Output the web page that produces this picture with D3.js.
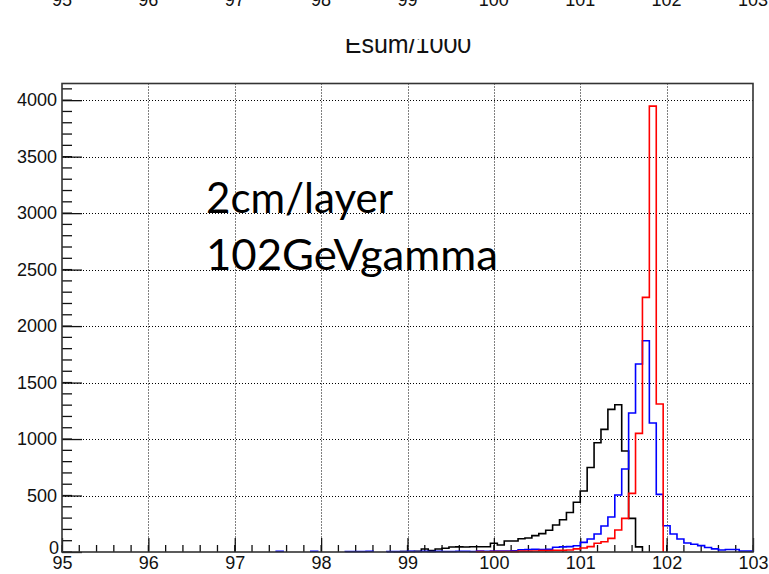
<!DOCTYPE html>
<html>
<head>
<meta charset="utf-8">
<script src="https://cdn.jsdelivr.net/npm/d3@7"></script>
<style>
  body { margin: 0; background: #fff; }
  svg { display: block; }
</style>
</head>
<body>
<svg id="chart" width="769" height="574"></svg>
<script>
// Histogram binning: 100 bins of 0.08 from 95 to 103 (Esum/1000)
const binStart = 95;
const binWidth = 0.08;

// Bin contents, one entry per bin (bin 0 = [95.00, 95.08))
const countsBlack = [
  0, 0, 0, 0, 0, 0, 0, 0, 0, 0,
  0, 0, 0, 0, 0, 0, 0, 0, 0, 0,
  0, 0, 0, 0, 0, 0, 0, 0, 0, 0,
  0, 0, 0, 0, 0, 0, 0, 0, 0, 0,
  0, 0, 0, 0, 0, 0, 0, 0, 2, 3,
  4, 6, 27, 12, 27, 33, 44, 45, 44, 46,
  47, 47, 77, 62, 97, 98, 117, 124, 145, 163,
  192, 239, 285, 350, 440, 540, 748, 967, 1086, 1263,
  1303, 894, 298, 45, 0, 0, 0, 0, 0, 0,
  0, 0, 0, 0, 0, 0, 0, 0, 0, 0
];
const countsBlue = [
  0, 0, 0, 0, 0, 0, 0, 0, 0, 0,
  0, 0, 0, 0, 0, 0, 0, 0, 0, 0,
  0, 0, 0, 0, 0, 0, 0, 0, 0, 0,
  0, 6, 0, 0, 0, 0, 6, 0, 0, 0,
  0, 4, 5, 4, 6, 0, 0, 3, 5, 4,
  6, 5, 7, 4, 6, 5, 5, 6, 7, 5,
  8, 7, 8, 9, 8, 10, 20, 22, 24, 22,
  25, 42, 45, 48, 55, 85, 115, 160, 230, 310,
  504, 735, 1230, 1664, 1870, 1142, 510, 232, 159, 115,
  80, 68, 56, 40, 28, 18, 22, 22, 8, 8
];
const countsRed = [
  0, 0, 0, 0, 0, 0, 0, 0, 0, 0,
  0, 0, 0, 0, 0, 0, 0, 0, 0, 0,
  0, 0, 0, 0, 0, 0, 0, 0, 0, 0,
  0, 0, 0, 0, 0, 0, 0, 0, 0, 0,
  0, 0, 0, 0, 0, 0, 0, 0, 0, 0,
  0, 0, 0, 0, 0, 0, 0, 0, 0, 0,
  3, 2, 3, 3, 4, 3, 8, 8, 9, 12,
  12, 14, 14, 18, 28, 35, 48, 77, 91, 121,
  195, 298, 519, 1050, 2254, 3947, 1310, 0, 0, 0,
  0, 0, 0, 0, 0, 0, 0, 0, 0, 0
];

const seriesNames = ["black", "blue", "red"];
const seriesColors = ["#000000", "#0000ff", "#ff0000"];

const xTickValues = [95, 96, 97, 98, 99, 100, 101, 102, 103];
const yTickValues = [0, 500, 1000, 1500, 2000, 2500, 3000, 3500, 4000];
const xDomain = [95, 103];
const yDomain = [0, 4147.5];

const axisTitle = "Esum/1000";
const noteLines = ["2cm/layer", "102GeVgamma"];

// ---- layout ----
const frame = { left: 62, right: 753, top: 83.5, bottom: 552 };
const svg = d3.select("#chart");

const x = d3.scaleLinear().domain(xDomain).range([frame.left, frame.right]);
const y = d3.scaleLinear().domain(yDomain).range([frame.bottom, frame.top]);

const labelFont = "'Liberation Sans', Arial, Helvetica, sans-serif";

// Bottom of the panel above: its x labels and axis title, cut along the top
const clip = svg.append("defs").append("clipPath").attr("id", "titleClip");
clip.append("rect").attr("x", 0).attr("y", 39).attr("width", 769).attr("height", 40);

svg.append("g").selectAll("text")
  .data(xTickValues)
  .join("text")
  .attr("x", d => x(d))
  .attr("y", 6)
  .attr("text-anchor", "middle")
  .attr("font-family", labelFont)
  .attr("font-size", 18)
  .attr("fill", "#111")
  .text(d => d);

svg.append("text")
  .attr("clip-path", "url(#titleClip)")
  .attr("x", 408)
  .attr("y", 53)
  .attr("text-anchor", "middle")
  .attr("font-family", labelFont)
  .attr("font-size", 25)
  .attr("fill", "#111")
  .text(axisTitle);

// ---- grid (dotted, at major ticks) ----
const grid = svg.append("g")
  .attr("stroke", "#000")
  .attr("stroke-width", 1)
  .attr("stroke-dasharray", "1,2")
  .attr("fill", "none");

grid.selectAll("line.vx")
  .data(xTickValues.filter(v => v > xDomain[0] && v < xDomain[1]))
  .join("line")
  .attr("class", "vx")
  .attr("x1", d => Math.round(x(d)) + 0.5)
  .attr("x2", d => Math.round(x(d)) + 0.5)
  .attr("y1", frame.top)
  .attr("y2", frame.bottom);

grid.selectAll("line.hy")
  .data(yTickValues.filter(v => v > 0))
  .join("line")
  .attr("class", "hy")
  .attr("x1", frame.left)
  .attr("x2", frame.right)
  .attr("y1", d => Math.round(y(d)) + 0.5)
  .attr("y2", d => Math.round(y(d)) + 0.5);

// ---- axes ----
const xMinor = d3.range(95, 103.0001, 0.2);
const yMinor = d3.range(0, 4147, 100);

const xAxis = d3.axisBottom(x)
  .tickValues(xTickValues)
  .tickFormat(d3.format("d"))
  .tickSizeInner(-14)
  .tickSizeOuter(0)
  .tickPadding(4);

const gx = svg.append("g")
  .attr("transform", `translate(0,${frame.bottom})`)
  .call(xAxis);
gx.select(".domain").remove();
gx.selectAll(".tick line").attr("stroke", "#111").attr("stroke-width", 1.3);
gx.selectAll(".tick text")
  .attr("font-family", labelFont)
  .attr("font-size", 18)
  .attr("fill", "#111");

svg.append("g").selectAll("line")
  .data(xMinor)
  .join("line")
  .attr("x1", d => x(d)).attr("x2", d => x(d))
  .attr("y1", frame.bottom).attr("y2", frame.bottom - 7)
  .attr("stroke", "#111").attr("stroke-width", 1.3);

const yAxis = d3.axisLeft(y)
  .tickValues(yTickValues)
  .tickFormat(d3.format("d"))
  .tickSizeInner(-20)
  .tickSizeOuter(0)
  .tickPadding(5);

const gy = svg.append("g")
  .attr("transform", `translate(${frame.left},0)`)
  .call(yAxis);
gy.select(".domain").remove();
gy.selectAll(".tick line").attr("stroke", "#111").attr("stroke-width", 1.3);
gy.selectAll(".tick text")
  .attr("font-family", labelFont)
  .attr("font-size", 18)
  .attr("fill", "#111");
// the zero label sits a little higher so it clears the "95" below it
gy.selectAll(".tick").filter(d => d === 0).select("text")
  .attr("x", -3).attr("dy", "0.1em");

svg.append("g").selectAll("line")
  .data(yMinor)
  .join("line")
  .attr("x1", frame.left).attr("x2", frame.left + 10)
  .attr("y1", d => y(d)).attr("y2", d => y(d))
  .attr("stroke", "#111").attr("stroke-width", 1.3);

// ---- histograms as step outlines, one sub-path per run of filled bins ----
function stepPath(counts) {
  const p = d3.path();
  let open = false;
  counts.forEach((v, i) => {
    const lo = binStart + i * binWidth;
    const hi = lo + binWidth;
    if (v > 0) {
      if (!open) { p.moveTo(x(lo), y(0)); open = true; }
      p.lineTo(x(lo), y(v));
      p.lineTo(x(hi), y(v));
    } else if (open) {
      p.lineTo(x(lo), y(0));
      open = false;
    }
  });
  if (open) p.lineTo(x(binStart + counts.length * binWidth), y(0));
  return p.toString();
}

const allCounts = [countsBlack, countsBlue, countsRed];
svg.append("g")
  .selectAll("path")
  .data(allCounts)
  .join("path")
  .attr("class", (d, i) => "hist-" + seriesNames[i])
  .attr("d", d => stepPath(d))
  .attr("fill", "none")
  .attr("stroke", (d, i) => seriesColors[i])
  .attr("stroke-width", 1.6)
  .attr("stroke-linejoin", "miter");

// ---- frame ----
svg.append("rect")
  .attr("x", frame.left)
  .attr("y", frame.top)
  .attr("width", frame.right - frame.left)
  .attr("height", frame.bottom - frame.top)
  .attr("fill", "none")
  .attr("stroke", "#333")
  .attr("stroke-width", 1.6);

// ---- annotation ----
const noteBaselines = [212.7, 270];
const noteWidths = [187, 292];
svg.append("g").selectAll("text")
  .data(noteLines)
  .join("text")
  .attr("x", 206)
  .attr("y", (d, i) => noteBaselines[i])
  .attr("font-family", "Lato, 'Open Sans', sans-serif")
  .attr("font-size", 43)
  .attr("fill", "#000")
  .attr("textLength", (d, i) => noteWidths[i])
  .attr("lengthAdjust", "spacingAndGlyphs")
  .text(d => d);
</script>
</body>
</html>
